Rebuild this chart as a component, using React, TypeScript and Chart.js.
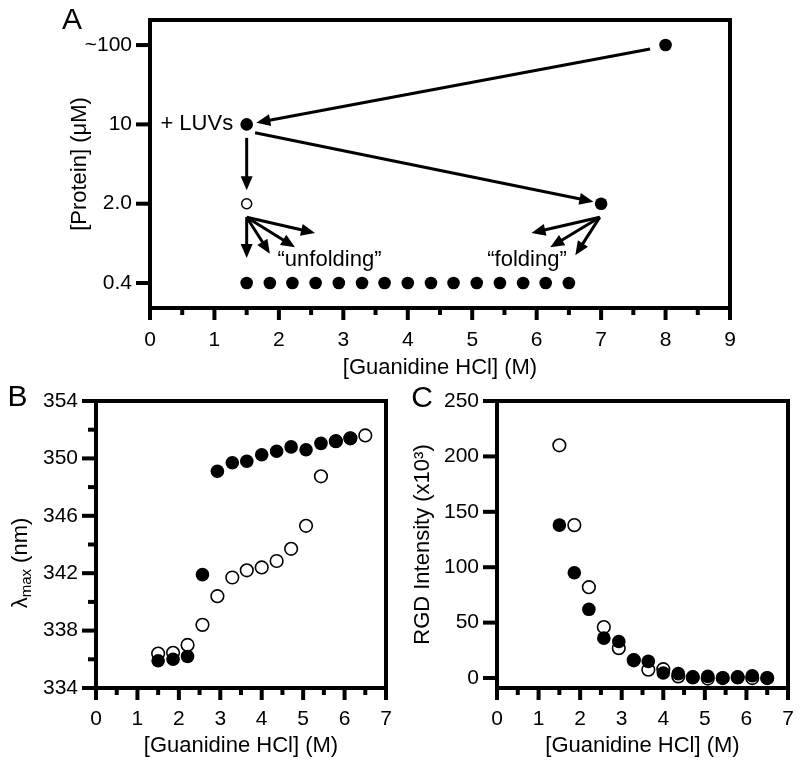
import React, { useEffect, useRef } from 'react';
import { Chart, registerables } from 'chart.js';

Chart.register(...registerables);

const FONT = '"Liberation Sans", Arial, Helvetica, sans-serif';

// ---------------- Panel A data ----------------
const proteinLabels = ['0.4', '2.0', '10', '~100'];
const proteinTickIdx = [0, 1, 2, 3];
const aXMajor = [0, 1, 2, 3, 4, 5, 6, 7, 8, 9];
const aXMinor = [0.5, 1.5, 2.5, 3.5, 4.5, 5.5, 6.5, 7.5, 8.5];
const aFilledX = [8, 1.5, 7, 1.5, 1.86, 2.21, 2.57, 2.93, 3.29, 3.64, 4.0, 4.36, 4.71, 5.07, 5.43, 5.79, 6.14, 6.5];
const aFilledLevel = [3, 2, 1, 0, 0, 0, 0, 0, 0, 0, 0, 0, 0, 0, 0, 0, 0, 0];
const aOpenX = [1.5];
const aOpenLevel = [1];

// arrows in data coordinates (x = guanidine M, y = protein level index)
const aArrows = [
  { x1: 7.76, y1: 2.95, x2: 1.65, y2: 2.02 },
  { x1: 1.63, y1: 1.895, x2: 6.88, y2: 1.025 },
  { x1: 1.5, y1: 1.83, x2: 1.5, y2: 1.17 },
  { x1: 1.5, y1: 0.83, x2: 1.5, y2: 0.315 },
  { x1: 1.5, y1: 0.83, x2: 1.86, y2: 0.37 },
  { x1: 1.5, y1: 0.83, x2: 2.25, y2: 0.45 },
  { x1: 1.5, y1: 0.83, x2: 2.56, y2: 0.63 },
  { x1: 6.98, y1: 0.83, x2: 5.92, y2: 0.63 },
  { x1: 6.98, y1: 0.83, x2: 6.21, y2: 0.45 },
  { x1: 6.98, y1: 0.83, x2: 6.6, y2: 0.35 },
];
const aNotes = [
  { text: '+ LUVs', x: 1.29, y: 2, align: 'right' },
  { text: '\u201Cunfolding\u201D', x: 2.785, y: 0.29, align: 'center' },
  { text: '\u201Cfolding\u201D', x: 5.85, y: 0.29, align: 'center' },
];

// ---------------- Panels B & C data ----------------
const guanidine = [1.5, 1.86, 2.21, 2.57, 2.93, 3.29, 3.64, 4.0, 4.36, 4.71, 5.07, 5.43, 5.79, 6.14, 6.5];
const lambdaFilled = [335.9, 336.0, 336.2, 341.9, 349.1, 349.7, 349.8, 350.25, 350.5, 350.8, 350.6, 351.05, 351.2, 351.4];
const lambdaOpen = [336.4, 336.45, 337.0, 338.4, 340.4, 341.7, 342.2, 342.4, 342.85, 343.7, 345.3, 348.75, 351.2, 351.4, 351.6];
const rgdFilled = [138, 95, 62, 36, 33, 16.5, 15, 4.5, 4, 1, 1.5, 0, 1, 2, 0];
const rgdOpen = [210, 138, 82, 46, 27, 16, 7.5, 8, 1.5, 0.5, -0.5, 0, 0.5, 0, 0];

const bcXMajor = [0, 1, 2, 3, 4, 5, 6, 7];
const bcXMinor = [0.5, 1.5, 2.5, 3.5, 4.5, 5.5, 6.5];
const bYMajor = [334, 338, 342, 346, 350, 354];
const bYMinor = [336, 340, 344, 348, 352];
const cYMajor = [0, 50, 100, 150, 200, 250];

const pts = (xs: number[], ys: number[]) => ys.map((y, i) => ({ x: xs[i], y }));

function framePlugin(spec: { xMajor: number[]; xMinor: number[]; yMajor: number[]; yMinor: number[] }) {
  return {
    id: 'frameTicks',
    beforeDatasetsDraw(chart: any) {
      const { ctx, chartArea: a, scales } = chart;
      const xs = scales.x;
      const ys = scales.y;
      ctx.save();
      ctx.strokeStyle = '#000';
      ctx.lineJoin = 'miter';
      ctx.lineCap = 'butt';
      ctx.lineWidth = 4;
      ctx.strokeRect(a.left, a.top, a.right - a.left, a.bottom - a.top);
      const line = (x1: number, y1: number, x2: number, y2: number) => {
        ctx.beginPath();
        ctx.moveTo(x1, y1);
        ctx.lineTo(x2, y2);
        ctx.stroke();
      };
      spec.xMajor.forEach((v) => { const p = xs.getPixelForValue(v); line(p, a.bottom, p, a.bottom + 12); });
      spec.xMinor.forEach((v) => { const p = xs.getPixelForValue(v); line(p, a.bottom, p, a.bottom + 7); });
      spec.yMajor.forEach((v) => { const p = ys.getPixelForValue(v); line(a.left, p, a.left - 14, p); });
      spec.yMinor.forEach((v) => { const p = ys.getPixelForValue(v); line(a.left, p, a.left - 8, p); });
      ctx.restore();
    },
  };
}

function letterPlugin(letter: string, x: number, y: number) {
  return {
    id: 'panelLetter',
    afterDraw(chart: any) {
      const ctx = chart.ctx;
      ctx.save();
      ctx.fillStyle = '#000';
      ctx.font = `30px ${FONT}`;
      ctx.textAlign = 'center';
      ctx.textBaseline = 'middle';
      ctx.fillText(letter, x, y);
      ctx.restore();
    },
  };
}

const arrowsPlugin = {
  id: 'arrowsA',
  afterDatasetsDraw(chart: any) {
    const { ctx, scales } = chart;
    const xs = scales.x;
    const ys = scales.y;
    ctx.save();
    ctx.strokeStyle = '#000';
    ctx.fillStyle = '#000';
    ctx.lineWidth = 3;
    aArrows.forEach((ar) => {
      const x1 = xs.getPixelForValue(ar.x1);
      const y1 = ys.getPixelForValue(ar.y1);
      const x2 = xs.getPixelForValue(ar.x2);
      const y2 = ys.getPixelForValue(ar.y2);
      const ang = Math.atan2(y2 - y1, x2 - x1);
      const hl = 14;
      const hw = 6;
      const bx = x2 - Math.cos(ang) * hl;
      const by = y2 - Math.sin(ang) * hl;
      ctx.beginPath();
      ctx.moveTo(x1, y1);
      ctx.lineTo(bx + Math.cos(ang) * 2, by + Math.sin(ang) * 2);
      ctx.stroke();
      ctx.beginPath();
      ctx.moveTo(x2, y2);
      ctx.lineTo(bx + Math.sin(ang) * hw, by - Math.cos(ang) * hw);
      ctx.lineTo(bx - Math.sin(ang) * hw, by + Math.cos(ang) * hw);
      ctx.closePath();
      ctx.fill();
    });
    ctx.font = `22px ${FONT}`;
    ctx.textBaseline = 'middle';
    aNotes.forEach((n) => {
      ctx.textAlign = n.align as CanvasTextAlign;
      ctx.fillText(n.text, xs.getPixelForValue(n.x), ys.getPixelForValue(n.y));
    });
    ctx.restore();
  },
};

const lambdaTitlePlugin = {
  id: 'lambdaTitle',
  afterDraw(chart: any) {
    const ctx = chart.ctx;
    ctx.save();
    ctx.translate(21, 183);
    ctx.rotate(-Math.PI / 2);
    ctx.fillStyle = '#000';
    ctx.textBaseline = 'middle';
    ctx.textAlign = 'left';
    const big = `22px ${FONT}`;
    const small = `15px ${FONT}`;
    ctx.font = big;
    const w1 = ctx.measureText('\u03BB').width;
    const w3 = ctx.measureText(' (nm)').width;
    ctx.font = small;
    const w2 = ctx.measureText('max').width;
    let x = -(w1 + w2 + w3) / 2;
    ctx.font = big;
    ctx.fillText('\u03BB', x, 0);
    x += w1;
    ctx.font = small;
    ctx.fillText('max', x, 6);
    x += w2;
    ctx.font = big;
    ctx.fillText(' (nm)', x, 0);
    ctx.restore();
  },
};

const tickFont = { family: FONT, size: 21 };
const titleFont = { family: FONT, size: 22 };

function fixTicks(values: number[]) {
  return (s: any) => {
    s.ticks = values.map((v) => ({ value: v }));
  };
}

function fixFit(prop: 'width' | 'height', size: number) {
  return (s: any) => {
    s[prop] = size;
    s.paddingTop = 0;
    s.paddingBottom = 0;
    s.paddingLeft = 0;
    s.paddingRight = 0;
  };
}

function baseOptions() {
  return {
    animation: false as const,
    responsive: false,
    devicePixelRatio: 1,
    plugins: { legend: { display: false }, tooltip: { enabled: false } },
    events: [] as any[],
  };
}

function makeA(canvas: HTMLCanvasElement) {
  return new Chart(canvas, {
    type: 'scatter',
    data: {
      datasets: [
        {
          data: pts(aFilledX, aFilledLevel),
          pointRadius: 6.3,
          backgroundColor: '#000',
          borderColor: '#000',
          borderWidth: 0,
        },
        {
          data: pts(aOpenX, aOpenLevel),
          pointRadius: 5,
          backgroundColor: '#fff',
          borderColor: '#000',
          borderWidth: 1.5,
        },
      ],
    },
    options: {
      ...baseOptions(),
      layout: { padding: { left: 0, top: 20, right: 70, bottom: 0 } },
      scales: {
        x: {
          type: 'linear',
          min: 0,
          max: 9,
          afterBuildTicks: fixTicks(aXMajor),
          afterFit: fixFit('height', 82),
          grid: { display: false, drawTicks: false },
          border: { display: false },
          ticks: { font: tickFont, color: '#000', padding: 20, maxRotation: 0, autoSkip: false },
          title: { display: true, text: '[Guanidine HCl] (M)', font: titleFont, color: '#000', padding: { top: 0, bottom: 8.8 } },
        },
        y: {
          type: 'linear',
          min: -0.315,
          max: 3.316,
          afterBuildTicks: fixTicks(proteinTickIdx),
          afterFit: fixFit('width', 150),
          grid: { display: false, drawTicks: false },
          border: { display: false },
          ticks: {
            font: tickFont,
            color: '#000',
            padding: 18,
            autoSkip: false,
            callback: (v: any) => proteinLabels[Number(v)] ?? '',
          },
          title: { display: true, text: '[Protein] (\u03BCM)', font: titleFont, color: '#000', padding: { top: 66.8, bottom: 0 } },
        },
      },
    } as any,
    plugins: [
      framePlugin({ xMajor: aXMajor, xMinor: aXMinor, yMajor: proteinTickIdx, yMinor: [] }),
      arrowsPlugin,
      letterPlugin('A', 72, 21),
    ],
  });
}

function makeBC(canvas: HTMLCanvasElement, which: 'B' | 'C') {
  const isB = which === 'B';
  const filled = isB ? lambdaFilled : rgdFilled;
  const open = isB ? lambdaOpen : rgdOpen;
  const plugins: any[] = [
    framePlugin({
      xMajor: bcXMajor,
      xMinor: bcXMinor,
      yMajor: isB ? bYMajor : cYMajor,
      yMinor: isB ? bYMinor : [],
    }),
    isB ? letterPlugin('B', 17.5, 18) : letterPlugin('C', 22, 19),
  ];
  if (isB) plugins.push(lambdaTitlePlugin);
  return new Chart(canvas, {
    type: 'scatter',
    data: {
      datasets: [
        {
          data: pts(guanidine, filled),
          pointRadius: 6.8,
          backgroundColor: '#000',
          borderColor: '#000',
          borderWidth: 0,
        },
        {
          data: pts(guanidine, open),
          pointRadius: 6.3,
          backgroundColor: '#fff',
          borderColor: '#000',
          borderWidth: 1.6,
        },
      ],
    },
    options: {
      ...baseOptions(),
      layout: { padding: { left: 0, top: 21, right: isB ? 14 : 12, bottom: 0 } },
      scales: {
        x: {
          type: 'linear',
          min: 0,
          max: 7,
          afterBuildTicks: fixTicks(bcXMajor),
          afterFit: fixFit('height', 78),
          grid: { display: false, drawTicks: false },
          border: { display: false },
          ticks: { font: tickFont, color: '#000', padding: 19, maxRotation: 0, autoSkip: false },
          title: { display: true, text: '[Guanidine HCl] (M)', font: titleFont, color: '#000', padding: { top: 0, bottom: 6.4 } },
        },
        y: {
          type: 'linear',
          min: isB ? 334 : -9,
          max: isB ? 354 : 250,
          afterBuildTicks: fixTicks(isB ? bYMajor : cYMajor),
          afterFit: fixFit('width', isB ? 96 : 97),
          grid: { display: false, drawTicks: false },
          border: { display: false },
          ticks: { font: tickFont, color: '#000', padding: 18, autoSkip: false },
          title: isB
            ? { display: false }
            : { display: true, text: 'RGD Intensity (x10\u00B3)', font: titleFont, color: '#000', padding: { top: 9.8, bottom: 0 } },
        },
      },
    } as any,
    plugins,
  });
}

export default function App() {
  const refA = useRef<HTMLCanvasElement>(null);
  const refB = useRef<HTMLCanvasElement>(null);
  const refC = useRef<HTMLCanvasElement>(null);

  useEffect(() => {
    const charts: Chart[] = [];
    if (refA.current) charts.push(makeA(refA.current));
    if (refB.current) charts.push(makeBC(refB.current, 'B'));
    if (refC.current) charts.push(makeBC(refC.current, 'C'));
    return () => charts.forEach((c) => c.destroy());
  }, []);

  return (
    <div style={{ position: 'fixed', left: 0, top: 0, width: 800, height: 766, background: '#fff' }}>
      <canvas ref={refA} width={800} height={390} style={{ position: 'absolute', left: 0, top: 0, width: 800, height: 390 }} />
      <canvas ref={refB} width={400} height={386} style={{ position: 'absolute', left: 0, top: 380, width: 400, height: 386 }} />
      <canvas ref={refC} width={400} height={386} style={{ position: 'absolute', left: 400, top: 380, width: 400, height: 386 }} />
    </div>
  );
}
